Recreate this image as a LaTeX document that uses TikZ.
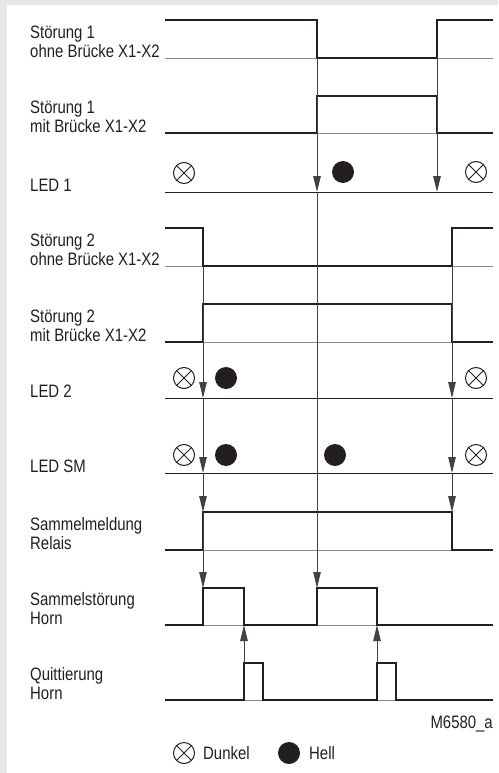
\documentclass[tikz,border=0pt]{standalone}
\usepackage{fontspec}
\setmainfont{Liberation Sans}[FakeStretch=0.83]
\usetikzlibrary{arrows.meta}
\definecolor{pagegray}{HTML}{E6E7E9}
\definecolor{ink}{HTML}{231F20}

\begin{document}
\begin{tikzpicture}[x=1pt,y=-1pt,                          % pixel grid, y down
                    >={Triangle[length=16pt,width=7.5pt]}, % arrow style
                    every node/.style={font=\fontsize{18}{19.5}\selectfont,text=ink},
                    sig/.style={line width=2.6pt,draw=ink,line join=miter},
                    base/.style={line width=0.9pt,draw=black!45},
                    trig/.style={line width=0.9pt,draw=ink!85,->},
                    ledline/.style={line width=1pt,draw=ink},
                    lbl/.style={anchor=south west,inner sep=0pt,align=left},
                    dark/.style={circle,draw=ink,line width=1pt,minimum size=21pt,inner sep=0pt,
                      path picture={\draw[ink,line width=1pt]
                        (path picture bounding box.north west) -- (path picture bounding box.south east)
                        (path picture bounding box.north east) -- (path picture bounding box.south west);}},
                    bright/.style={circle,fill=ink,minimum size=22pt,inner sep=0pt}]

% ---------------------------------------------------------------
% Page
\useasboundingbox (0,0) rectangle (498,773);
\fill[pagegray] (0,0) rectangle (498,773);
\fill[white] (7,5) rectangle (498,773);

% ---------------------------------------------------------------
% Labels
\node[lbl] (s1o)  at (30,58)  {Störung 1\\ohne Brücke X1-X2};
\node[lbl] (s1m)  at (30,133) {Störung 1\\mit Brücke X1-X2};
\node[lbl] (led1) at (30,192) {LED 1};
\node[lbl] (s2o)  at (30,266) {Störung 2\\ohne Brücke X1-X2};
\node[lbl] (s2m)  at (30,342) {Störung 2\\mit Brücke X1-X2};
\node[lbl] (led2) at (30,398) {LED 2};
\node[lbl] (ledsm)at (30,473) {LED SM};
\node[lbl] (smr)  at (30,550) {Sammelmeldung\\Relais};
\node[lbl] (ssh)  at (30,625) {Sammelstörung\\Horn};
\node[lbl] (qh)   at (30,700) {Quittierung\\Horn};

% ---------------------------------------------------------------
% Baselines (thin)
\foreach \y in {58,133,266,342,550,625,700}
  \draw[base] (165,\y) -- (493,\y);
\foreach \y in {192,398,473}
  \draw[ledline] (165,\y) -- (493,\y);

% ---------------------------------------------------------------
% Signals
\draw[sig] (165,20)  -- (317,20)  -- (317,58)  -- (437,58)  -- (437,20)  -- (493,20);  % Störung 1 ohne
\draw[sig] (165,133) -- (317,133) -- (317,96)  -- (437,96)  -- (437,133) -- (493,133); % Störung 1 mit
\draw[sig] (165,228) -- (203,228) -- (203,266) -- (452,266) -- (452,228) -- (493,228); % Störung 2 ohne
\draw[sig] (165,342) -- (203,342) -- (203,304) -- (452,304) -- (452,342) -- (493,342); % Störung 2 mit
\draw[sig] (165,550) -- (203,550) -- (203,512) -- (452,512) -- (452,550) -- (493,550); % Relais
\draw[sig] (165,625) -- (203,625) -- (203,588) -- (244,588) -- (244,625)
           -- (317,625) -- (317,588) -- (377,588) -- (377,625) -- (493,625);           % Horn
\draw[sig] (165,700) -- (244,700) -- (244,663) -- (263,663) -- (263,700)
           -- (377,700) -- (377,663) -- (396,663) -- (396,700) -- (493,700);           % Quittierung

% ---------------------------------------------------------------
% LED states
\node[dark]   (l1a) at (184,173) {};
\node[bright] (l1b) at (343,172) {};
\node[dark]   (l1c) at (476,172) {};

\node[dark]   (l2a) at (184,378) {};
\node[bright] (l2b) at (226,378) {};
\node[dark]   (l2c) at (476,378) {};

\node[dark]   (lsa) at (184,455) {};
\node[bright] (lsb) at (226,455) {};
\node[bright] (lsc) at (335,455) {};
\node[dark]   (lsd) at (476,455) {};

% ---------------------------------------------------------------
% Trigger arrows
\draw[trig] (317,58)  -- (317,192);
\draw[trig] (317,192) -- (317,588);
\draw[trig] (437,58)  -- (437,192);

\draw[trig] (203,266) -- (203,398);
\draw[trig] (203,398) -- (203,473);
\draw[trig] (203,473) -- (203,512);
\draw[trig] (203,512) -- (203,588);

\draw[trig] (452,266) -- (452,398);
\draw[trig] (452,398) -- (452,473);
\draw[trig] (452,473) -- (452,512);

\draw[trig] (244,663) -- (244,625);
\draw[trig] (377,663) -- (377,625);

% ---------------------------------------------------------------
% Key
\node[anchor=base east,inner sep=0pt] (ref) at (493,728) {M6580\_a};
\node[dark]   (kd)  at (184,753) {};
\node[anchor=base west,inner sep=0pt] (kdt) at (203,759) {Dunkel};
\node[bright] (kh)  at (289,753) {};
\node[anchor=base west,inner sep=0pt] (kht) at (309,759) {Hell};

\end{tikzpicture}
\end{document}
